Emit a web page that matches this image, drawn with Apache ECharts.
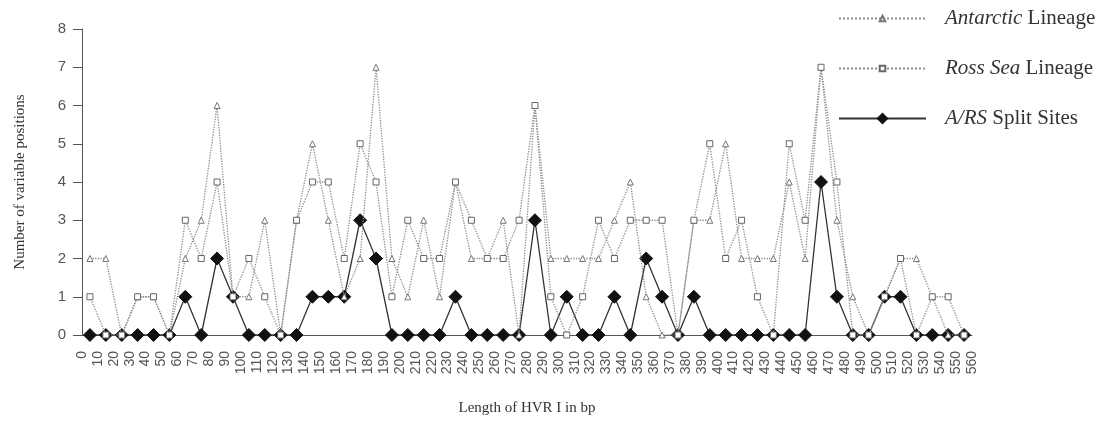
<!DOCTYPE html>
<html>
<head>
<meta charset="utf-8">
<script src="https://cdn.jsdelivr.net/npm/echarts@6/dist/echarts.min.js"></script>
<style>
  html, body { margin: 0; padding: 0; background: #fff; }
  #chart { width: 1106px; height: 431px; }
</style>
</head>
<body>
<div id="chart"></div>
<script>
// tick labels sit on the bin boundaries, points sit inside the bins
var tickLabels = ['0','10','20','30','40','50','60','70','80','90','100','110','120','130','140','150','160','170','180','190','200','210','220','230','240','250','260','270','280','290','300','310','320','330','340','350','360','370','380','390','400','410','420','430','440','450','460','470','480','490','500','510','520','530','540','550','560'];

var antarctic = [2,2,0,1,1,0,2,3,6,1,1,3,0,3,5,3,1,2,7,2,1,3,1,4,2,2,3,0,6,2,2,2,2,3,4,1,0,0,3,3,5,2,2,2,4,2,7,3,1,0,1,2,2,1,0,0];
var rossSea   = [1,0,0,1,1,0,3,2,4,1,2,1,0,3,4,4,2,5,4,1,3,2,2,4,3,2,2,3,6,1,0,1,3,2,3,3,3,0,3,5,2,3,1,0,5,3,7,4,0,0,1,2,0,1,1,0];
var splitSites = [0,0,0,0,0,0,1,0,2,1,0,0,0,0,1,1,1,3,2,0,0,0,0,1,0,0,0,0,3,0,1,0,0,1,0,2,1,0,1,0,0,0,0,0,0,0,4,1,0,0,1,1,0,0,0,0];

var bins = tickLabels.slice(0, -1).map(function(t, i) { return t + '-' + tickLabels[i + 1]; });

var legendText = {
    'Antarctic Lineage': '{i|Antarctic} Lineage',
    'Ross Sea Lineage': '{i|Ross Sea} Lineage',
    'A/RS Split Sites': '{i|A/RS} Split Sites'
};

var legendFont = {
    fontFamily: 'Liberation Serif',
    fontSize: 21,
    color: '#333',
    padding: [0, 0, 0, 14],
    rich: {
        i: { fontFamily: 'Liberation Serif', fontSize: 21, fontStyle: 'italic', color: '#333' }
    }
};

var chart = echarts.init(document.getElementById('chart'));

chart.setOption({
    animation: false,
    backgroundColor: '#fff',
    grid: { left: 82, right: 134, top: 29, bottom: 96 },
    legend: [
        {
            orient: 'vertical',
            left: 833,
            top: 3,
            itemWidth: 87,
            itemHeight: 7,
            itemGap: 29,
            data: ['Antarctic Lineage', 'Ross Sea Lineage'],
            formatter: function(name) { return legendText[name]; },
            textStyle: legendFont
        },
        {
            orient: 'vertical',
            left: 833,
            top: 103,
            itemWidth: 87,
            itemHeight: 15,
            data: ['A/RS Split Sites'],
            formatter: function(name) { return legendText[name]; },
            textStyle: legendFont
        }
    ],
    xAxis: [
        {
            type: 'category',
            data: bins,
            boundaryGap: true,
            axisLine: { lineStyle: { color: '#555', width: 1 } },
            axisTick: { interval: 0, length: 8, lineStyle: { color: '#555' } },
            axisLabel: { show: false },
            name: 'Length of HVR I in bp',
            nameLocation: 'middle',
            nameGap: 66,
            nameTextStyle: { fontFamily: 'Liberation Serif', fontSize: 15, color: '#333' }
        },
        {
            type: 'category',
            data: tickLabels,
            boundaryGap: false,
            position: 'bottom',
            axisLine: { show: false },
            axisTick: { show: false },
            axisLabel: {
                interval: 0,
                rotate: 90,
                margin: 16,
                padding: [0, 0, 10, 0],
                fontFamily: 'Liberation Sans',
                fontSize: 14,
                color: '#555'
            }
        }
    ],
    yAxis: {
        type: 'value',
        min: 0,
        max: 8,
        interval: 1,
        splitLine: { show: false },
        axisLine: { show: true, lineStyle: { color: '#555', width: 1 } },
        axisTick: { show: true, length: 9, lineStyle: { color: '#555' } },
        axisLabel: { margin: 16, fontFamily: 'Liberation Sans', fontSize: 15, color: '#555' },
        name: 'Number of variable positions',
        nameLocation: 'middle',
        nameGap: 54,
        nameTextStyle: { fontFamily: 'Liberation Serif', fontSize: 15, color: '#333' }
    },
    series: [
        {
            name: 'A/RS Split Sites',
            type: 'line',
            z: 1,
            data: splitSites,
            symbol: 'diamond',
            symbolSize: 13,
            showAllSymbol: true,
            lineStyle: { color: '#333', width: 1.3, type: 'solid' },
            itemStyle: { color: '#111', borderColor: '#111' }
        },
        {
            name: 'Antarctic Lineage',
            type: 'line',
            z: 2,
            data: antarctic,
            symbol: 'triangle',
            symbolSize: 6,
            showAllSymbol: true,
            lineStyle: { color: '#8c8c8c', width: 1.3, type: 'dotted' },
            itemStyle: { color: '#fff', borderColor: '#777', borderWidth: 1 }
        },
        {
            name: 'Ross Sea Lineage',
            type: 'line',
            z: 3,
            data: rossSea,
            symbol: 'rect',
            symbolSize: 6,
            showAllSymbol: true,
            lineStyle: { color: '#8c8c8c', width: 1.3, type: 'dotted' },
            itemStyle: { color: '#fff', borderColor: '#666', borderWidth: 1 }
        }
    ]
});
</script>
</body>
</html>
